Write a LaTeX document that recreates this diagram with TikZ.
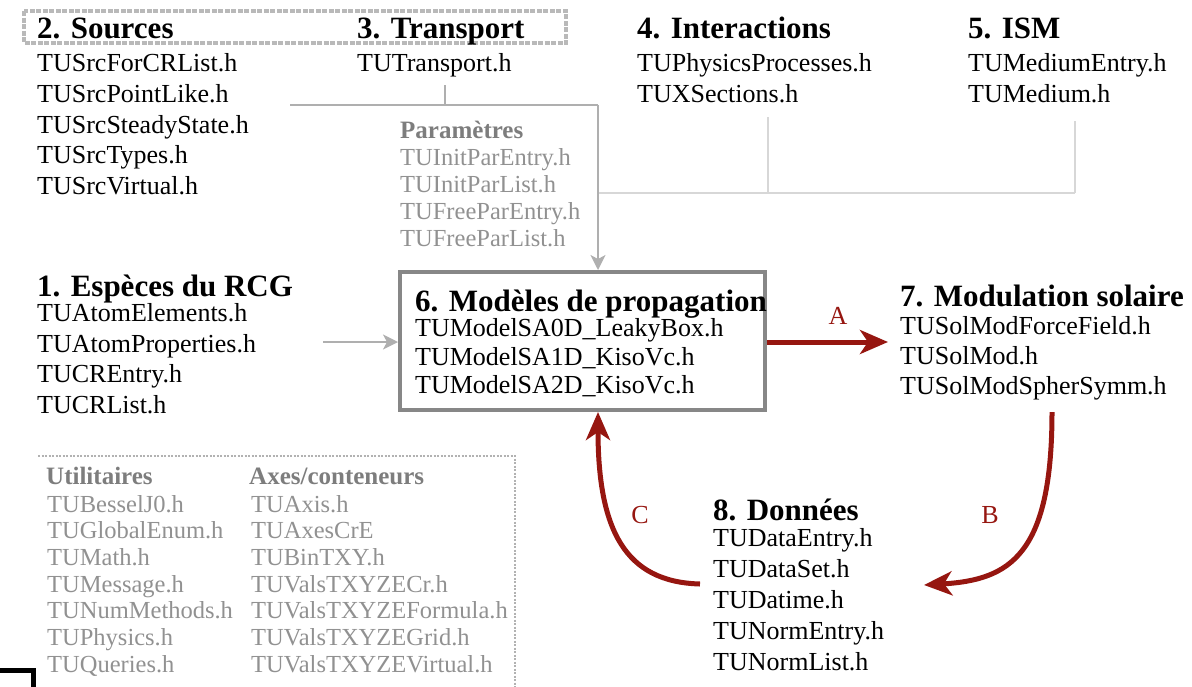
\documentclass[tikz,border=0pt]{standalone}
\usepackage{fontspec}
\setmainfont{Liberation Serif}
\usetikzlibrary{arrows.meta}
\definecolor{dred}{RGB}{150,22,16}
\definecolor{gtext}{RGB}{145,145,145}
\definecolor{ghead}{RGB}{125,125,125}
\definecolor{gline}{RGB}{175,175,175}
\definecolor{glight}{RGB}{215,215,215}
\definecolor{gbox}{RGB}{135,135,135}
\begin{document}
\begin{tikzpicture}[x=1pt,y=-1pt,
  lst/.style={anchor=base west,inner sep=0,font=\fontsize{26}{31}\selectfont},
  hdr/.style={anchor=base west,inner sep=0,font=\fontsize{31}{36}\selectfont\bfseries},
  glst/.style={anchor=base west,inner sep=0,text=gtext,font=\fontsize{24.5}{27}\selectfont},
  ghdr/.style={anchor=base west,inner sep=0,text=ghead,font=\fontsize{25}{27}\selectfont\bfseries},
  glink/.style={draw=gline,line width=1.6pt},
  gfaint/.style={draw=glight,line width=1.6pt},
  garrow/.style={glink,-{Stealth[length=15pt,width=15pt,inset=4pt]}},
  rarrow/.style={draw=dred,line width=5pt,-{Stealth[length=28pt,width=24pt,inset=8pt]}},
  rlabel/.style={text=dred,inner sep=0,font=\fontsize{26}{30}\selectfont},
  topbox/.style={draw=gray!55,line width=3.5pt,dash pattern=on 5pt off 1.5pt},
  utilbox/.style={draw=gray!60,line width=1.2pt,dash pattern=on 2pt off 1.5pt}]
\useasboundingbox (0,0) rectangle (1192,686);

% dotted frames
\draw[topbox] (24,11) rectangle (566,43);
\draw[utilbox] (38,456) -- (515,456) -- (515,690);

% 2. Sources
\node[hdr] (srcH) at (37,38.5) {2. Sources};
\foreach \t [count=\i] in {TUSrcForCRList.h,TUSrcPointLike.h,TUSrcSteadyState.h,TUSrcTypes.h,TUSrcVirtual.h}
  \node[lst] (src\i) at (37,{71.5+(\i-1)*30.8}) {\t};

% 3. Transport
\node[hdr] (trH) at (357,38.5) {3. Transport};
\node[lst] (tr1) at (357,71.5) {TUTransport.h};

% Parametres
\node[ghdr] (parH) at (400,138) {Paramètres};
\foreach \t [count=\i] in {TUInitParEntry.h,TUInitParList.h,TUFreeParEntry.h,TUFreeParList.h}
  \node[glst] (par\i) at (400,{165+(\i-1)*27.3}) {\t};

% 4. Interactions
\node[hdr] (intH) at (637,38.5) {4. Interactions};
\foreach \t [count=\i] in {TUPhysicsProcesses.h,TUXSections.h}
  \node[lst] (int\i) at (637,{71.5+(\i-1)*30.8}) {\t};

% 5. ISM
\node[hdr] (ismH) at (968,38.5) {5. ISM};
\foreach \t [count=\i] in {TUMediumEntry.h,TUMedium.h}
  \node[lst] (ism\i) at (968,{71.5+(\i-1)*30.8}) {\t};

% 1. Especes
\node[hdr] (espH) at (37,296) {1. Espèces du RCG};
\foreach \t [count=\i] in {TUAtomElements.h,TUAtomProperties.h,TUCREntry.h,TUCRList.h}
  \node[lst] (esp\i) at (37,{321.5+(\i-1)*30.7}) {\t};

% 6. Modeles
\node[draw=gbox,line width=4pt,minimum width=365pt,minimum height=138pt,inner sep=0] (m) at (582.5,341) {};
\node[hdr] (modH) at (415,311) {6. Modèles de propagation};
\foreach \t [count=\i] in {TUModelSA0D\_LeakyBox.h,TUModelSA1D\_KisoVc.h,TUModelSA2D\_KisoVc.h}
  \node[lst] (mod\i) at (415,{336.5+(\i-1)*28.5}) {\t};

% 7. Modulation
\node[hdr] (solH) at (900,306) {7. Modulation solaire};
\foreach \t [count=\i] in {TUSolModForceField.h,TUSolMod.h,TUSolModSpherSymm.h}
  \node[lst] (sol\i) at (900,{334.5+(\i-1)*30}) {\t};

% 8. Donnees
\node[hdr] (datH) at (713,520) {8. Données};
\foreach \t [count=\i] in {TUDataEntry.h,TUDataSet.h,TUDatime.h,TUNormEntry.h,TUNormList.h}
  \node[lst] (dat\i) at (713,{546.5+(\i-1)*31}) {\t};

% Utilitaires
\node[ghdr] (utH) at (46,484) {Utilitaires};
\foreach \t [count=\i] in {TUBesselJ0.h,TUGlobalEnum.h,TUMath.h,TUMessage.h,TUNumMethods.h,TUPhysics.h,TUQueries.h}
  \node[glst] (ut\i) at (47,{512+(\i-1)*26.7}) {\t};
\node[ghdr] (axH) at (249,484) {Axes/conteneurs};
\foreach \t [count=\i] in {TUAxis.h,TUAxesCrE,TUBinTXY.h,TUValsTXYZECr.h,TUValsTXYZEFormula.h,TUValsTXYZEGrid.h,TUValsTXYZEVirtual.h}
  \node[glst] (ax\i) at (251,{512+(\i-1)*26.7}) {\t};

% gray connectors
\coordinate (tA) at (445,85);
\coordinate (tB) at (445,105);
\coordinate (hL) at (290,105);
\coordinate (hR) at (598,105);
\coordinate (jn) at (598,193);
\coordinate (iA) at (768,117);
\coordinate (iB) at (768,193);
\coordinate (sA) at (1075,121);
\coordinate (sB) at (1075,193);
\draw[glink] (tA) -- (tB);
\draw[glink] (hL) -- (hR);
\draw[gfaint] (jn) -- (sB);
\draw[gfaint] (iA) -- (iB);
\draw[gfaint] (sA) -- (sB);
\draw[garrow] (hR) -- (m.north -| hR);

\coordinate (eS) at (323,342);
\draw[garrow] (eS) -- (m.west |- eS);

% red arrows
\coordinate (aE) at (888,342);
\draw[rarrow] (m.east |- aE) -- (aE);
\node[rlabel] (lA) at (838,316) {A};

\coordinate (bS) at (1052,412);
\coordinate (bE) at (924,585);
\draw[rarrow] (bS) .. controls (1052,555) and (1010,580) .. (bE);
\node[rlabel] (lB) at (990,515) {B};

\coordinate (cS) at (700,584);
\draw[rarrow] (cS) .. controls (625,582) and (598,530) .. (m.south -| hR);
\node[rlabel] (lC) at (640,515) {C};

% black fragment at bottom left
\draw[line width=5pt] (0,670.5) -- (33,670.5) -- (33,690);
\end{tikzpicture}
\end{document}
